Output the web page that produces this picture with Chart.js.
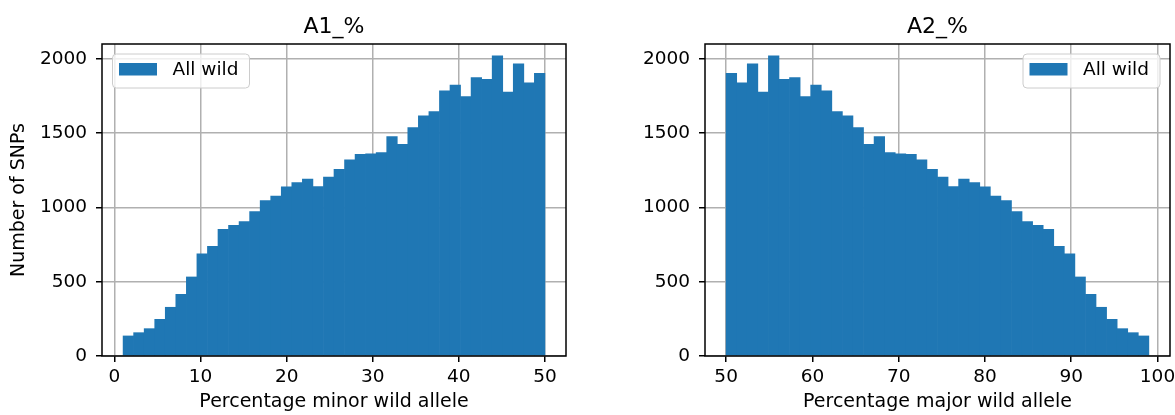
<!DOCTYPE html>
<html><head><meta charset="utf-8">
<script src="https://cdn.jsdelivr.net/npm/chart.js@4.4.1/dist/chart.umd.min.js"></script>
<style>
html,body{margin:0;padding:0;background:#fff;}
#wrap{position:relative;width:1175px;height:415px;overflow:hidden;background:#fff;}
.box{position:absolute;top:0;height:415px;}
canvas{display:block;}
</style></head><body>
<div id="wrap">
<div class="box" style="left:0;width:587px"><canvas id="c1" width="587" height="415"></canvas></div>
<div class="box" style="left:587px;width:588px"><canvas id="c2" width="588" height="415"></canvas></div>
</div>
<script>
// ---- data ----
const seriesLabel = 'All wild';
const nBins = 40;
const a1BinMin = 1, a1BinMax = 50;
const a2BinMin = 50, a2BinMax = 99;
const a1Counts = [135,157,184,247,328,415,532,687,738,853,880,905,972,1046,1077,1138,1167,1190,1140,1205,
                  1257,1320,1358,1360,1370,1477,1425,1538,1616,1645,1785,1823,1746,1874,1863,2020,1776,1966,1838,1903];
const a2Counts = [1903,1838,1966,1776,2020,1863,1874,1746,1823,1785,1645,1616,1538,1425,1477,1370,1360,1358,1320,1257,
                  1205,1140,1190,1167,1138,1077,1046,972,905,880,853,738,687,532,415,328,247,184,157,135];
const a1Ticks = [0,10,20,30,40,50];
const a2Ticks = [50,60,70,80,90,100];
const yTicks = [0,500,1000,1500,2000];
const yMax = 2100;

const FONT = "'DejaVu Sans', 'Liberation Sans', sans-serif";
const BAR = '#1f77b4';

function binPoints(counts, lo, hi){
  const w = (hi - lo) / counts.length;
  return counts.map((c,i)=>({x: lo + (i + 0.5) * w, y: c}));
}

const framePlugin = {
  id: 'frameLegend',
  afterDraw(chart){
    const {ctx, chartArea: a} = chart;
    const o = chart.options.plugins.frameLegend;
    ctx.save();
    // title centred over the axes
    ctx.fillStyle = '#000';
    ctx.font = '22px ' + FONT;
    ctx.textAlign = 'center';
    ctx.textBaseline = 'alphabetic';
    ctx.fillText(o.title, (a.left + a.right) / 2, 33);
    // axes frame
    ctx.strokeStyle = '#000';
    ctx.lineWidth = 1.5;
    ctx.strokeRect(a.left, a.top, a.right - a.left, a.bottom - a.top);
    // legend box
    const bw = 137, bh = 34;
    const bx = o.side === 'left' ? a.left + 10.5 : a.right - 10 - bw;
    const by = a.top + 10;
    const r = 4;
    ctx.beginPath();
    ctx.moveTo(bx + r, by);
    ctx.lineTo(bx + bw - r, by);
    ctx.quadraticCurveTo(bx + bw, by, bx + bw, by + r);
    ctx.lineTo(bx + bw, by + bh - r);
    ctx.quadraticCurveTo(bx + bw, by + bh, bx + bw - r, by + bh);
    ctx.lineTo(bx + r, by + bh);
    ctx.quadraticCurveTo(bx, by + bh, bx, by + bh - r);
    ctx.lineTo(bx, by + r);
    ctx.quadraticCurveTo(bx, by, bx + r, by);
    ctx.closePath();
    ctx.fillStyle = 'rgba(255,255,255,0.8)';
    ctx.fill();
    ctx.strokeStyle = '#cccccc';
    ctx.lineWidth = 1;
    ctx.stroke();
    ctx.fillStyle = BAR;
    ctx.fillRect(bx + 6.5, by + 9, 38, 12.5);
    ctx.fillStyle = '#000';
    ctx.font = '18.5px ' + FONT;
    ctx.textBaseline = 'middle';
    ctx.textAlign = 'left';
    ctx.fillText(seriesLabel, bx + 60, by + 16);
    ctx.restore();
  }
};

function makeChart(id, cfg){
  const margin = (cfg.hi - cfg.lo) * 0.05;
  const tickFont = {family: FONT, size: 18.5};
  const labelFont = {family: FONT, size: 19};
  return new Chart(document.getElementById(id), {
    type: 'bar',
    data: {
      datasets: [{
        label: seriesLabel,
        data: binPoints(cfg.counts, cfg.lo, cfg.hi),
        backgroundColor: BAR,
        borderWidth: 0,
        barPercentage: 1,
        categoryPercentage: 1
      }]
    },
    plugins: [framePlugin],
    options: {
      responsive: false,
      animation: false,
      devicePixelRatio: 1,
      layout: {padding: {left: 0, right: cfg.padRight, top: 44, bottom: 0}},
      plugins: {
        legend: {display: false},
        tooltip: {enabled: false},
        title: {display: false},
        frameLegend: {side: cfg.legendSide, title: cfg.title}
      },
      scales: {
        x: {
          type: 'linear', offset: false, min: cfg.lo - margin, max: cfg.hi + margin, z: 1,
          afterBuildTicks: s => { s.ticks = cfg.xTicks.map(v => ({value: v})); },
          afterFit: s => { s.height = 59; s.paddingLeft = 0; s.paddingRight = 0; },
          grid: {offset: false, color: '#b0b0b0', lineWidth: 1.5, drawTicks: true, tickLength: 6, tickColor: '#000', tickWidth: 1.5},
          border: {display: false},
          ticks: {font: tickFont, color: '#000', padding: 4, maxRotation: 0, autoSkip: false, callback: v => String(v)},
          title: {display: true, text: cfg.xLabel, color: '#000', font: labelFont, padding: {top: 1.5, bottom: 1.5}}
        },
        y: {
          min: 0, max: yMax, z: 1,
          afterBuildTicks: s => { s.ticks = yTicks.map(v => ({value: v})); },
          afterFit: s => { s.width = cfg.yWidth; },
          grid: {color: '#b0b0b0', lineWidth: 1.5, drawTicks: true, tickLength: 6, tickColor: '#000', tickWidth: 1.5},
          border: {display: false},
          ticks: {font: tickFont, color: '#000', padding: 9, callback: v => String(v)},
          title: {display: !!cfg.yLabel, text: cfg.yLabel || '', color: '#000', font: labelFont, padding: {top: 8, bottom: 8}}
        }
      }
    }
  });
}

makeChart('c1', {counts: a1Counts, lo: a1BinMin, hi: a1BinMax, xTicks: a1Ticks, title: 'A1_%',
  xLabel: 'Percentage minor wild allele', yLabel: 'Number of SNPs', legendSide: 'left', yWidth: 102, padRight: 21});
makeChart('c2', {counts: a2Counts, lo: a2BinMin, hi: a2BinMax, xTicks: a2Ticks, title: 'A2_%',
  xLabel: 'Percentage major wild allele', yLabel: '', legendSide: 'right', yWidth: 118, padRight: 5});
</script>
</body></html>
